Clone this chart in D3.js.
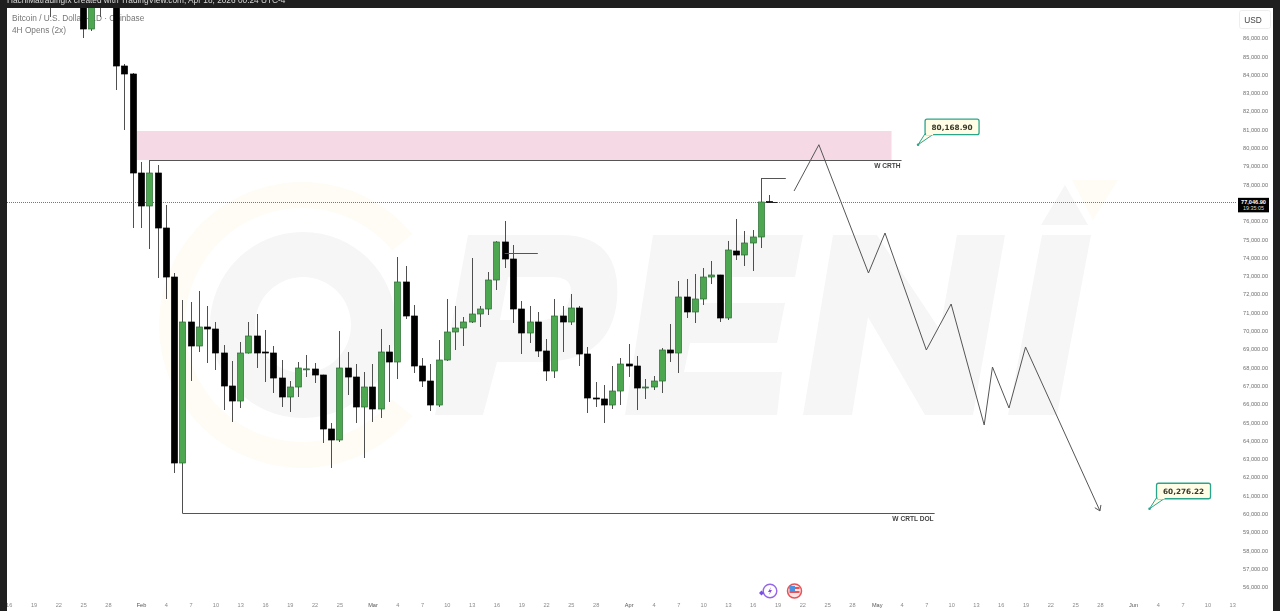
<!DOCTYPE html>
<html>
<head>
<meta charset="utf-8">
<title>BTCUSD 1D</title>
<script src="https://cdn.jsdelivr.net/npm/d3@7"></script>
<style>
    html, body { margin: 0; padding: 0; background: #fff; overflow: hidden; }
    svg { display: block; font-family: "Liberation Sans", Arial, sans-serif; filter: blur(0.3px); }
    .domain { display: none; }
    .axis-y text { font-size: 5.6px; fill: #6f6f6f; }
    .axis-x text { font-size: 5.6px; fill: #8a8a8a; }
    .axis-x text.month { fill: #555; }
</style>
</head>
<body>
<svg id="chart" width="1280" height="611"></svg>
<script>
// daily candles, one per day from firstCandle on
const firstCandle = '2026-01-21'
const opens = [89500, 89400, 89300, 89200, 88700, 86492, 88600, 88200, 88300, 84470, 84033,
    78623, 76820, 78623, 75617, 72939, 62776, 70481, 69169, 70208, 70098, 68787, 66983, 66164, 68787, 69716,
    68841, 68787, 67420, 66383, 66929, 67900, 67912, 67584, 64634, 64033, 67967, 67475, 65836,
    66929, 65727, 68841, 68295, 72667, 70809, 68076, 67256, 65945, 68404, 69935, 70153, 70481, 70918, 71191, 72776,
    74853, 73923, 71191, 69880, 70481, 68896, 67803, 70809, 70481, 71246, 68732, 66328, 66274, 65945, 66710,
    68185, 68076, 66874, 66929, 67256, 68951, 68787, 71847, 71028, 71738, 72939, 73049, 70700, 74360, 74142, 74798, 75126, 77060]
const highs = [90000, 89800, 89700, 89600, 89000, 88800, 88900, 90000, 88500, 84580, 84087,
    79224, 79333, 79060, 76874, 73158, 71683, 71574, 72175, 71355, 70481, 69224, 68350, 69388, 70481, 70918,
    70044, 69169, 68404, 67256, 68295, 68678, 68240, 67600, 64962, 69989, 68841, 68185, 67748,
    68185, 70098, 69224, 74032, 73541, 71410, 68513, 68185, 69497, 71738, 71355, 70754, 73978, 71355, 73213, 74900,
    76000, 74689, 71628, 71355, 71028, 69552, 71738, 71355, 72011, 71355, 69115, 67202, 67038, 68076, 68513,
    69279, 68623, 67365, 67530, 69060, 70372, 72721, 72831, 73103, 73432, 73814, 73060, 74908, 76110, 75454, 75508, 78350, 77421]
const lows = [87148, 88600, 88500, 88400, 86000, 86382, 87148, 88100, 83158, 80973, 75617,
    75617, 74470, 72885, 71738, 62229, 60044, 67256, 68841, 68240, 67858, 65672, 65017, 65781, 68750, 67967,
    67202, 66601, 65836, 65563, 66383, 67475, 67147, 63869, 62502, 63923, 66492, 64962, 63049,
    65017, 65235, 66110, 67365, 70645, 67694, 66929, 65617, 65836, 68350, 68951, 69169, 70426, 70208, 70863, 72230,
    73432, 70426, 68732, 69333, 68568, 67256, 67420, 68841, 70317, 68076, 65508, 65836, 64962, 65727, 65945,
    67475, 65672, 66274, 66765, 66601, 68295, 67694, 70700, 70426, 71410, 72558, 70481, 70590, 73869, 73541, 73268, 74525, 76984]
const closes = [88800, 88700, 88600, 88900, 86492, 88300, 88200, 88300, 84470, 84033, 78623,
    76820, 78623, 75617, 72939, 62776, 70481, 69169, 70208, 70098, 68787, 66983, 66164, 68787, 69716, 68787,
    68787, 67420, 66383, 66929, 67967, 67920, 67584, 64634, 64033, 67967, 67475, 65836, 66929,
    65727, 68841, 68295, 72667, 70809, 68076, 67256, 65945, 68404, 69935, 70153, 70481, 70918, 71191, 72776, 74853,
    73923, 71191, 69880, 70481, 68896, 67803, 70809, 70481, 71246, 68732, 66328, 66300, 65945, 66710, 68185,
    68076, 66874, 66929, 67256, 68951, 68787, 71847, 71028, 71738, 72939, 73049, 70700, 74415, 74142, 74798, 75126, 77038, 77046.9]

const lastPrice = 77046.9
const priceTicks = [86000, 85000, 84000, 83000, 82000, 81000, 80000, 79000, 78000, 76000, 75000, 74000, 73000, 72000,
    71000, 70000, 69000, 68000, 67000, 66000, 65000, 64000, 63000, 62000, 61000, 60000, 59000, 58000, 57000, 56000]
const dateTicks = ['01-16', '01-19', '01-22', '01-25', '01-28',
    '02-01', '02-04', '02-07', '02-10', '02-13', '02-16', '02-19', '02-22', '02-25',
    '03-01', '03-04', '03-07', '03-10', '03-13', '03-16', '03-19', '03-22', '03-25', '03-28',
    '04-01', '04-04', '04-07', '04-10', '04-13', '04-16', '04-19', '04-22', '04-25', '04-28',
    '05-01', '05-04', '05-07', '05-10', '05-13', '05-16', '05-19', '05-22', '05-25', '05-28',
    '06-01', '06-04', '06-07', '06-10', '06-13']

// hand drawn projection
const projectionDates = ['04-21', '04-24', '04-30', '05-02', '05-07', '05-10', '05-14', '05-15', '05-17', '05-19', '05-28']
const projectionPrices = [77640, 80168.9, 73158, 75344, 68951, 71464, 64853, 68021, 65781, 69115, 60160]

const calloutDates = ['05-06', '06-03']
const calloutPrices = [80168.9, 60276.22]

// supply zone and level lines
const zonePrices = [80918, 79333]
const zoneDates = ['2026-01-31T12:00Z', '2026-05-02T19:00Z']
const levelLabels = ['W CRTH', 'W CRTL DOL', '', '']
const levelPrices = [79333, 60044, 74251, 78350]
const levelStarts = ['02-02', '02-06', '03-17', '04-17']
const levelEnds = ['05-04', '05-08', '03-21', '04-20']

const watermarkLetters = [
    'M468,235 L560,235 Q622,235 617,300 Q611,362 540,362 L497,362 L483,415 L435,415 Z M508,277 L552,277 Q575,277 570,297 Q565,320 540,320 L500,320 Z',
    'M653,235 L803,235 L795,277 L702,277 L697,303 L785,303 L777,343 L690,343 L684,372 L782,372 L777,415 L625,415 Z',
    'M833,235 L877,235 L940,330 L957,235 L1005,235 L973,415 L925,415 L868,317 L852,415 L803,415 Z',
    'M1042,235 L1091,235 L1057,415 L1008,415 Z',
    'M1065,185 L1088,225 L1041,225 Z'
]

const md = (s) => new Date(`2026-${s}T00:00Z`)

const x = d3.scaleUtc().domain([md('02-01'), md('06-01')]).range([141, 1133])
const y = d3.scaleLinear().domain([86000, 56000]).range([38, 587])

function buildCandles() {
    const start = new Date(`${firstCandle}T00:00Z`)
    return opens.map((open, i) => ({
        date: d3.utcDay.offset(start, i),
        open,
        high: highs[i],
        low: lows[i],
        close: closes[i],
    }))
}

function drawWatermark(chart) {
    const g = chart.append('g')
    const arc = d3.arc()
        .innerRadius(117)
        .outerRadius(143)
        .startAngle((129.5 * Math.PI) / 180)
        .endAngle((410.5 * Math.PI) / 180)
    g.append('path').attr('transform', 'translate(302,325)').attr('d', arc()).attr('fill', '#fffcf5')
    g.append('path')
        .attr('transform', 'translate(303,325)')
        .attr('d', d3.arc().innerRadius(48).outerRadius(93).startAngle(0).endAngle(2 * Math.PI)())
        .attr('fill', '#f6f6f6')
    g.selectAll('path.letter')
        .data(watermarkLetters)
        .enter()
        .append('path')
        .attr('class', 'letter')
        .attr('d', (d) => d)
        .attr('fill', '#f6f6f6')
        .attr('fill-rule', 'evenodd')
    g.append('path').attr('d', 'M1072,180 L1118,180 L1093,220 Z').attr('fill', '#fffcf5')
}

function drawLegend(chart) {
    chart.append('text').attr('x', 12).attr('y', 21).attr('font-size', 8.3).attr('fill', '#777')
        .text('Bitcoin / U.S. Dollar · 1D · Coinbase')
    chart.append('text').attr('x', 12).attr('y', 33).attr('font-size', 8.3).attr('fill', '#777')
        .text('4H Opens (2x)')
}

function drawZone(chart) {
    const [d0, d1] = zoneDates.map((s) => new Date(s))
    chart.append('rect')
        .attr('x', x(d0))
        .attr('y', y(zonePrices[0]))
        .attr('width', x(d1) - x(d0))
        .attr('height', y(zonePrices[1]) - y(zonePrices[0]))
        .attr('fill', '#f5dae6')
}

function drawLevels(chart) {
    levelPrices.forEach((price, i) => {
        chart.append('line')
            .attr('x1', x(md(levelStarts[i])))
            .attr('x2', x(md(levelEnds[i])))
            .attr('y1', Math.round(y(price)) + 0.5)
            .attr('y2', Math.round(y(price)) + 0.5)
            .attr('stroke', '#555')
            .attr('stroke-width', 1)
        if (levelLabels[i]) {
            chart.append('text')
                .attr('x', x(md(levelEnds[i])) - 1)
                .attr('y', y(price) + 8)
                .attr('text-anchor', 'end')
                .attr('font-size', 6.6)
                .attr('font-weight', 'bold')
                .attr('fill', '#444')
                .text(levelLabels[i])
        }
    })
}

function drawPriceLine(chart) {
    chart.append('line')
        .attr('x1', 7)
        .attr('x2', 1237)
        .attr('y1', Math.round(y(lastPrice)) + 0.5)
        .attr('y2', Math.round(y(lastPrice)) + 0.5)
        .attr('stroke', '#777')
        .attr('stroke-dasharray', '1 1')
}

function drawCandles(chart, candles) {
    const bodyWidth = 6
    const rows = chart.selectAll('g.candle')
        .data(candles)
        .enter()
        .append('g')
        .attr('class', 'candle')

    rows.append('line')
        .attr('x1', (d) => Math.round(x(d.date)) + 0.5)
        .attr('x2', (d) => Math.round(x(d.date)) + 0.5)
        .attr('y1', (d) => y(d.high))
        .attr('y2', (d) => y(d.low))
        .attr('stroke', '#4f4f4f')

    rows.append('rect')
        .attr('x', (d) => Math.round(x(d.date)) + 0.5 - bodyWidth / 2)
        .attr('width', bodyWidth)
        .attr('y', (d) => y(Math.max(d.open, d.close)))
        .attr('height', (d) => Math.max(1, Math.abs(y(d.open) - y(d.close))))
        .attr('fill', (d) => (d.close >= d.open ? '#4ca750' : '#000'))
        .attr('stroke', (d) => (d.close >= d.open ? '#2c6b34' : '#000'))
        .attr('stroke-width', 0.7)

    // small tick off the live candle
    const last = candles[candles.length - 1]
    chart.append('line')
        .attr('x1', x(last.date))
        .attr('x2', x(last.date) + 8)
        .attr('y1', Math.round(y(lastPrice)) + 0.5)
        .attr('y2', Math.round(y(lastPrice)) + 0.5)
        .attr('stroke', '#222')
}

function drawProjection(chart) {
    const points = projectionDates.map((d, i) => [x(md(d)), y(projectionPrices[i])])
    chart.append('path')
        .attr('d', d3.line()(points))
        .attr('fill', 'none')
        .attr('stroke', '#555')
        .attr('stroke-width', 1)

    const [px, py] = points[points.length - 2]
    const [ex, ey] = points[points.length - 1]
    const angle = Math.atan2(ey - py, ex - px)
    const head = [angle - 2.55, angle + 2.55].map((a) => [ex + 6 * Math.cos(a), ey + 6 * Math.sin(a)])
    chart.append('path')
        .attr('d', d3.line()([head[0], [ex, ey], head[1]]))
        .attr('fill', 'none')
        .attr('stroke', '#555')
}

function drawCallouts(chart) {
    const fmt = d3.format(',.2f')
    calloutPrices.forEach((price, i) => {
        const cx = x(md(calloutDates[i]))
        const cy = y(price)
        const g = chart.append('g').attr('transform', `translate(${cx},${cy})`)
        g.append('path')
            .attr('d', 'M0,0 L7,-11 L16,-11 Z')
            .attr('fill', '#fffde6')
            .attr('stroke', '#2aa58c')
        g.append('rect')
            .attr('x', 7)
            .attr('y', -25.5)
            .attr('width', 54)
            .attr('height', 15.5)
            .attr('rx', 2)
            .attr('fill', '#fffde6')
            .attr('stroke', '#2aa58c')
            .attr('stroke-width', 1.3)
        g.append('rect').attr('x', 8).attr('y', -11.5).attr('width', 7).attr('height', 2).attr('fill', '#fffde6')
        g.append('circle').attr('r', 1.3).attr('fill', '#2aa58c')
        g.append('text')
            .attr('x', 34)
            .attr('y', -15)
            .attr('text-anchor', 'middle')
            .attr('font-family', '"DejaVu Sans", sans-serif')
            .attr('font-size', 7.3)
            .attr('font-weight', 'bold')
            .attr('fill', '#3a3a2c')
            .text(fmt(price))
    })
}

function drawAxes(chart) {
    const yAxis = d3.axisLeft(y)
        .tickValues(priceTicks)
        .tickSize(0)
        .tickPadding(0)
        .tickFormat(d3.format(',.2f'))
    chart.append('g').attr('class', 'axis-y').attr('transform', 'translate(1268,0)').call(yAxis)

    const xAxis = d3.axisBottom(x)
        .tickValues(dateTicks.map(md))
        .tickSize(0)
        .tickPadding(0)
        .tickFormat((d) => (d.getUTCDate() === 1 ? d3.utcFormat('%b')(d) : d.getUTCDate()))
    const axis = chart.append('g').attr('class', 'axis-x').attr('transform', 'translate(0,603)').call(xAxis)
    axis.selectAll('.tick text').classed('month', (d) => d.getUTCDate() === 1)
}

function drawPriceTag(chart) {
    const tagY = y(lastPrice)
    chart.append('rect').attr('x', 1238).attr('y', tagY - 4).attr('width', 31).attr('height', 14.5).attr('fill', '#000')
    chart.append('text').attr('x', 1253.5).attr('y', tagY + 2).attr('text-anchor', 'middle')
        .attr('font-size', 5.6).attr('font-weight', 'bold').attr('fill', '#fff').text(d3.format(',.2f')(lastPrice))
    chart.append('text').attr('x', 1253.5).attr('y', tagY + 8).attr('text-anchor', 'middle')
        .attr('font-size', 5.4).attr('fill', '#ddd').text('19:35:05')
}

function drawIcons(chart) {
    const bolt = chart.append('g').attr('transform', 'translate(770,591)')
    bolt.append('circle').attr('r', 6.8).attr('fill', '#fff').attr('stroke', '#9467e8').attr('stroke-width', 1.4)
    bolt.append('path').attr('d', 'M1,-4 L-2,1 L0,1 L-1,4 L2,-1 L0,-1 Z').attr('fill', '#8a4fe0')
    bolt.append('path').attr('d', 'M-8.5,-0.5 L-6,2 L-8.5,4.5 L-11,2 Z').attr('fill', '#7a4fe8')

    const flag = chart.append('g').attr('transform', 'translate(794.5,591)')
    flag.append('circle').attr('r', 7).attr('fill', '#fbe3e3').attr('stroke', '#e8535a').attr('stroke-width', 1.5)
    flag.append('rect').attr('x', -5).attr('y', -4).attr('width', 10).attr('height', 2).attr('fill', '#e8535a')
    flag.append('rect').attr('x', -5).attr('y', 0).attr('width', 10).attr('height', 2).attr('fill', '#e8535a')
    flag.append('rect').attr('x', -5).attr('y', -5).attr('width', 5.5).attr('height', 5).attr('fill', '#4b93e0')
}

function drawFrame(chart) {
    const dark = '#1f1f1f'
    chart.append('rect').attr('x', 0).attr('y', 0).attr('width', 1280).attr('height', 8).attr('fill', dark)
    chart.append('rect').attr('x', 0).attr('y', 0).attr('width', 7).attr('height', 611).attr('fill', dark)
    chart.append('rect').attr('x', 1273).attr('y', 0).attr('width', 7).attr('height', 611).attr('fill', dark)
    chart.append('text').attr('x', 7).attr('y', 3).attr('font-size', 8.3).attr('fill', '#d8d8d8')
        .text('HachiMatradingfx created with TradingView.com, Apr 18, 2026 00:24 UTC-4')

    chart.append('rect').attr('x', 1239.5).attr('y', 10.5).attr('width', 31).attr('height', 18).attr('rx', 2)
        .attr('fill', '#fff').attr('stroke', '#eee')
    chart.append('text').attr('x', 1253).attr('y', 23).attr('text-anchor', 'middle')
        .attr('font-size', 8.3).attr('fill', '#444').text('USD')
}

function main() {
    const chart = d3.select('#chart')
    const candles = buildCandles()

    drawWatermark(chart)
    drawLegend(chart)
    drawZone(chart)
    drawPriceLine(chart)
    drawCandles(chart, candles)
    drawLevels(chart)
    drawProjection(chart)
    drawCallouts(chart)
    drawAxes(chart)
    drawPriceTag(chart)
    drawIcons(chart)
    drawFrame(chart)
}

main()
</script>
</body>
</html>
